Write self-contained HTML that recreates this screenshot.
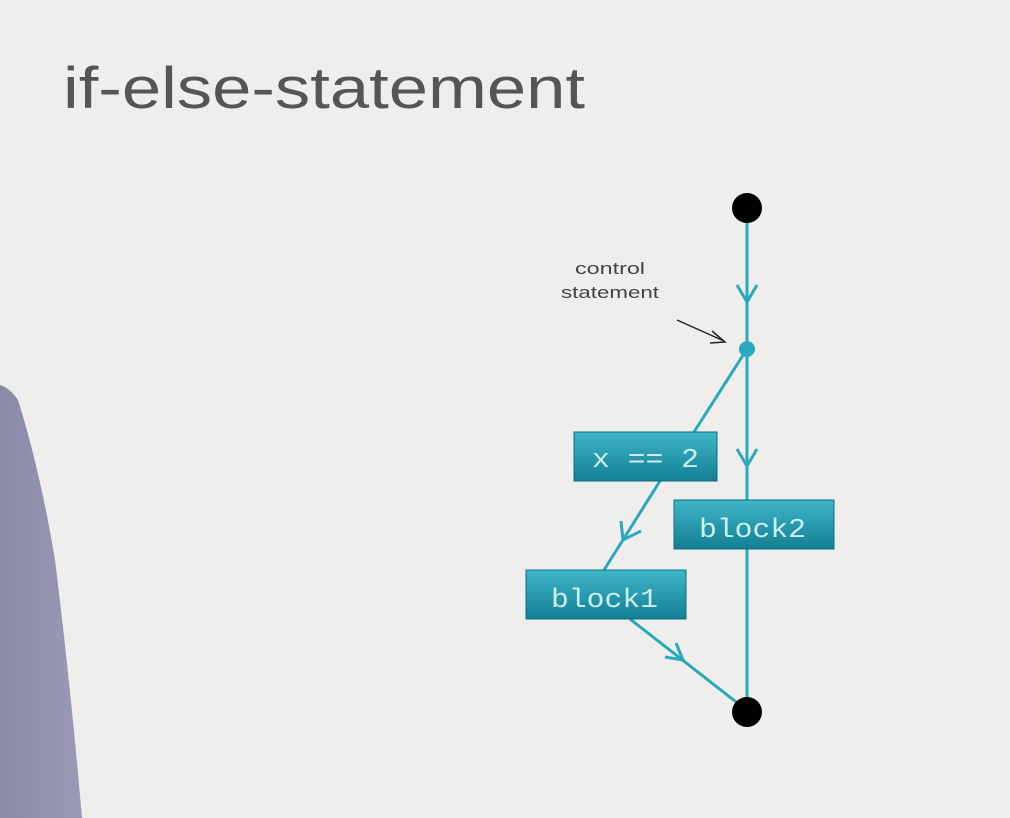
<!DOCTYPE html>
<html><head><style>
html,body{margin:0;padding:0;background:#efeeed;}
body{width:1010px;height:818px;overflow:hidden;position:relative;font-family:"Liberation Sans",sans-serif;}
</style></head><body>
<svg width="1010" height="818" viewBox="0 0 1010 818" xmlns="http://www.w3.org/2000/svg" style="position:absolute;left:0;top:0">
<defs>
<linearGradient id="bx" x1="0" y1="0" x2="0" y2="1">
<stop offset="0" stop-color="#3fb6c8"/><stop offset="1" stop-color="#137f93"/>
</linearGradient>
<linearGradient id="ps" x1="0" y1="0" x2="1" y2="0">
<stop offset="0" stop-color="#8a8aa6"/><stop offset="1" stop-color="#9a9ab6"/>
</linearGradient>
</defs>
<rect width="1010" height="818" fill="#efeeed"/>
<path d="M0,385 Q10,388 18,400 Q40,470 55,560 Q70,680 82,818 L0,818 Z" fill="url(#ps)"/>
<text x="63" y="108" font-size="58" fill="#555" textLength="522" lengthAdjust="spacingAndGlyphs">if-else-statement</text>
<text x="575" y="274" font-size="17" fill="#444" textLength="70" lengthAdjust="spacingAndGlyphs" dx="0">control</text>
<text x="561" y="298" font-size="17" fill="#444" textLength="98" lengthAdjust="spacingAndGlyphs">statement</text>
<line x1="677" y1="320" x2="724" y2="341" stroke="#222" stroke-width="1.5"/>
<polyline points="712,331 725,342 710,343" fill="none" stroke="#222" stroke-width="1.5"/>
<g stroke="#2aa9bb" stroke-width="3" fill="none">
<line x1="747" y1="208" x2="747" y2="712"/>
<polyline points="737,285 747,302 757,285"/>
<polyline points="737,449 747,466 757,449"/>
<line x1="747" y1="349" x2="694" y2="432"/>
<line x1="660" y1="481" x2="604" y2="570"/>
<polyline points="621,521 623,540 641,531"/>
<line x1="630" y1="619" x2="740" y2="705"/>
<polyline points="676,643 683,660 665,657"/>
</g>
<circle cx="747" cy="208" r="15" fill="#000"/>
<circle cx="747" cy="712" r="15" fill="#000"/>
<circle cx="747" cy="349" r="8" fill="#2aa9bb"/>
<g font-family="Liberation Mono, monospace" font-size="27" fill="#cdeef2">
<rect x="574" y="432" width="143" height="49" fill="url(#bx)" stroke="#0e6f80" stroke-width="1"/>
<text x="592" y="467" textLength="107" lengthAdjust="spacingAndGlyphs">x == 2</text>
<rect x="674" y="500" width="160" height="49" fill="url(#bx)" stroke="#0e6f80" stroke-width="1"/>
<text x="699" y="537" textLength="107" lengthAdjust="spacingAndGlyphs">block2</text>
<rect x="526" y="570" width="160" height="49" fill="url(#bx)" stroke="#0e6f80" stroke-width="1"/>
<text x="551" y="607" textLength="107" lengthAdjust="spacingAndGlyphs">block1</text>
</g>
</svg>
</body></html>
